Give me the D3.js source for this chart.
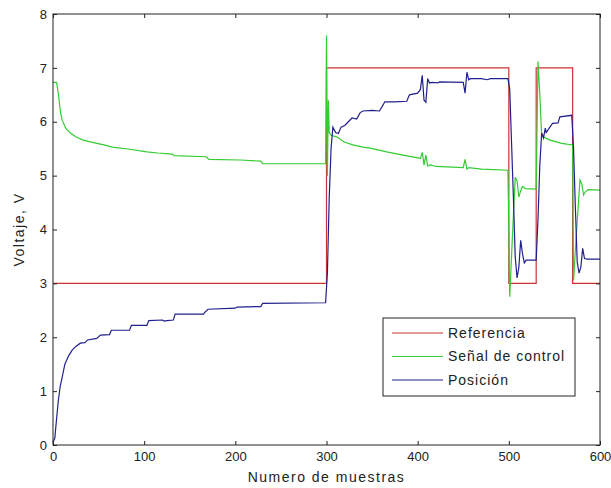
<!DOCTYPE html>
<html>
<head>
<meta charset="utf-8">
<script src="https://cdn.jsdelivr.net/npm/d3@7"></script>
<style>
  body { margin: 0; background: #fff; }
  text { font-family: "Liberation Sans", Arial, sans-serif; fill: #222; }
</style>
</head>
<body>
<svg id="chart" width="611" height="488"></svg>
<script>
// series data (sample index, volts)
const refX = [0, 300, 300, 500, 500, 530, 530, 570, 570, 600];
const refY = [3, 3, 7, 7, 3, 3, 7, 7, 3, 3];

const ctrlX = [0, 4, 6, 8, 10, 14, 19, 25, 33, 40, 48, 56, 65, 84, 103, 115, 131, 133, 168, 171, 205, 228, 230, 299,
    300, 301, 302, 303, 305, 311, 320, 329, 340, 348, 366, 384, 400, 403, 405, 407, 409, 411, 414, 420, 450, 452, 454, 456, 470, 499,
    500, 501, 504, 507, 509, 511, 513, 515, 518, 530, 532, 534, 536, 540, 545, 558, 570, 571, 574, 578, 580, 582, 584, 587, 600];
const ctrlY = [6.73, 6.73, 6.5, 6.2, 6.03, 5.88, 5.79, 5.72, 5.66, 5.63, 5.6, 5.57, 5.53, 5.49, 5.44, 5.42, 5.4, 5.37, 5.35, 5.3, 5.29, 5.27, 5.22, 5.22,
    7.6, 5.0, 6.4, 5.8, 5.75, 5.72, 5.62, 5.57, 5.53, 5.51, 5.44, 5.38, 5.33, 5.32, 5.43, 5.2, 5.38, 5.18, 5.2, 5.17, 5.15, 5.3, 5.12, 5.15, 5.12, 5.1,
    4.0, 2.75, 3.9, 4.97, 4.9, 4.6, 4.72, 4.8, 4.76, 4.75, 7.12, 6.5, 5.75, 5.7, 5.66, 5.6, 5.57, 3.06, 3.9, 4.92, 4.85, 4.64, 4.7, 4.74, 4.73];

const posX = [0, 2, 4, 6, 8, 10, 13, 17, 21, 25, 30, 35, 38, 48, 52, 62, 64, 84, 86, 103, 105, 120, 122, 125, 132, 134, 165, 167, 170, 200, 202, 228, 230, 299,
    301, 303, 305, 307, 310, 313, 316, 320, 324, 328, 333, 337, 340, 350, 358, 361, 364, 375, 388, 391, 400, 403, 405, 407, 409, 411, 413, 416, 422, 424,
    450, 452, 454, 456, 458, 470, 476, 480, 499, 501, 503, 505, 507, 509, 511, 513, 515, 517, 519, 530, 532, 534, 536, 538, 540, 541, 545, 548, 554, 556, 569,
    571, 573, 575, 577, 579, 581, 583, 586, 600];
const posY = [0.05, 0.13, 0.5, 0.85, 1.1, 1.25, 1.5, 1.65, 1.76, 1.83, 1.89, 1.9, 1.95, 1.98, 2.04, 2.05, 2.13, 2.13, 2.22, 2.22, 2.31, 2.32, 2.3, 2.31, 2.32, 2.43, 2.43, 2.47, 2.52, 2.54, 2.56, 2.57, 2.63, 2.64,
    3.2, 4.6, 5.5, 5.9, 5.8, 5.78, 5.9, 5.93, 6.0, 6.07, 6.05, 6.17, 6.2, 6.21, 6.2, 6.28, 6.37, 6.37, 6.38, 6.5, 6.53, 6.6, 6.86, 6.4, 6.36, 6.8, 6.72, 6.73, 6.72, 6.74,
    6.73, 6.53, 6.92, 6.78, 6.8, 6.8, 6.78, 6.8, 6.8, 6.6, 5.6, 4.6, 3.5, 3.1, 3.3, 3.8, 3.55, 3.38, 3.43, 3.43, 4.2, 5.2, 5.79, 5.7, 5.88, 5.8, 5.9, 5.97, 5.98, 6.09, 6.12,
    5.5, 4.4, 3.4, 3.19, 3.3, 3.65, 3.46, 3.45, 3.45];

const xTicks = [0, 100, 200, 300, 400, 500, 600];
const yTicks = [0, 1, 2, 3, 4, 5, 6, 7, 8];
const seriesNames = ["Referencia", "Señal de control", "Posición"];
const seriesColors = ["#cc3333", "#33cc33", "#20208c"];

const svg = d3.select("#chart"),
    margin = { top: 14, right: 11, bottom: 43, left: 53 },
    width = 611 - margin.left - margin.right,
    height = 488 - margin.top - margin.bottom;

const x = d3.scaleLinear().domain([0, 600]).range([0, width]);
const y = d3.scaleLinear().domain([0, 8]).range([height, 0]);

const g = svg.append("g")
    .attr("transform", "translate(" + margin.left + "," + margin.top + ")");

function zip(xs, ys) {
    return xs.map(function (v, i) { return [v, ys[i]]; });
}

const line = d3.line()
    .x(function (d) { return x(d[0]); })
    .y(function (d) { return y(d[1]); });

const series = [zip(refX, refY), zip(ctrlX, ctrlY), zip(posX, posY)];

g.selectAll("path.series")
    .data(series)
    .enter().append("path")
    .attr("class", "series")
    .attr("fill", "none")
    .attr("stroke", function (d, i) { return seriesColors[i]; })
    .attr("stroke-width", 1.2)
    .attr("d", line);

// axes, ticks pointing inward like matlab
function styleAxis(sel) {
    sel.select(".domain").remove();
    sel.selectAll("line").attr("stroke", "#222");
    sel.selectAll("text")
        .style("font-size", "13px")
        .attr("fill", "#222");
}

g.append("g")
    .attr("transform", "translate(0," + height + ")")
    .call(d3.axisBottom(x).tickValues(xTicks).tickSize(-4).tickPadding(7))
    .call(styleAxis);

g.append("g")
    .call(d3.axisTop(x).tickValues(xTicks).tickSize(-4).tickFormat(""))
    .call(styleAxis);

g.append("g")
    .call(d3.axisLeft(y).tickValues(yTicks).tickSize(-4).tickPadding(6))
    .call(styleAxis);

g.append("g")
    .attr("transform", "translate(" + width + ",0)")
    .call(d3.axisRight(y).tickValues(yTicks).tickSize(-4).tickFormat(""))
    .call(styleAxis);

g.append("rect")
    .attr("width", width)
    .attr("height", height)
    .attr("fill", "none")
    .attr("stroke", "#222");

// axis titles
svg.append("text")
    .attr("x", margin.left + width / 2)
    .attr("y", 482)
    .attr("text-anchor", "middle")
    .style("font-size", "14px")
    .style("letter-spacing", "1.5px")
    .text("Numero de muestras");

svg.append("text")
    .attr("transform", "translate(24," + (margin.top + height / 2) + ") rotate(-90)")
    .attr("text-anchor", "middle")
    .style("font-size", "14px")
    .style("letter-spacing", "1.5px")
    .text("Voltaje, V");

// legend
const legend = svg.append("g").attr("transform", "translate(383,318)");
legend.append("rect")
    .attr("width", 192)
    .attr("height", 78)
    .attr("fill", "#fff")
    .attr("stroke", "#222");

const item = legend.selectAll("g.item")
    .data(seriesNames)
    .enter().append("g")
    .attr("class", "item")
    .attr("transform", function (d, i) { return "translate(0," + (15 + i * 23.5) + ")"; });

item.append("line")
    .attr("x1", 9).attr("x2", 60)
    .attr("stroke", function (d, i) { return seriesColors[i]; })
    .attr("stroke-width", 1.2);

item.append("text")
    .attr("x", 65)
    .attr("dy", "0.35em")
    .style("font-size", "14px")
    .style("letter-spacing", "1px")
    .text(function (d) { return d; });
</script>
</body>
</html>
